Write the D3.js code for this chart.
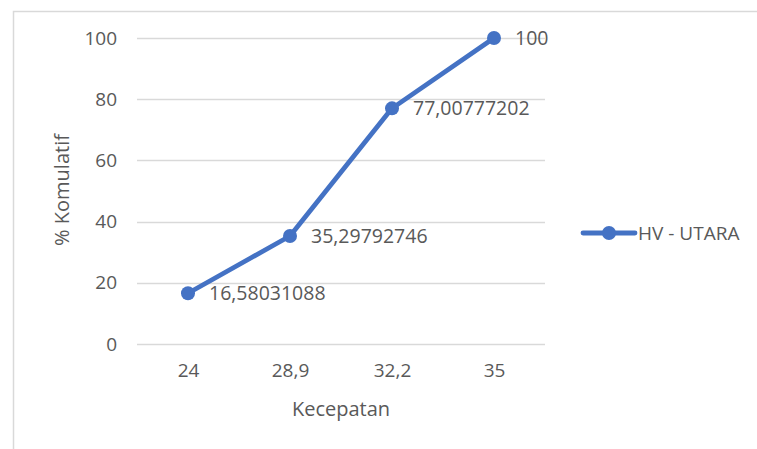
<!DOCTYPE html>
<html>
<head>
<meta charset="utf-8">
<script src="https://cdn.jsdelivr.net/npm/d3@7"></script>
<style>
  html, body { margin: 0; padding: 0; background: #fff; }
  svg { display: block; }
  text { font-family: "Open Sans", "Noto Sans", "Liberation Sans", sans-serif; fill: #595959; }
</style>
</head>
<body>
<svg id="chart" width="757" height="449"></svg>
<script>
// Cumulative percentage by speed
const categories = ["24", "28,9", "32,2", "35"];
const values = [16.58031088, 35.29792746, 77.00777202, 100];
const valueLabels = ["16,58031088", "35,29792746", "77,00777202", "100"];
const yTicks = [0, 20, 40, 60, 80, 100];
const seriesName = "HV - UTARA";

const color = "#4472C4";
const svg = d3.select("#chart");

// Chart frame (extends past the visible area on right and bottom)
svg.append("rect")
  .attr("x", 13.5).attr("y", 11.5)
  .attr("width", 800).attr("height", 500)
  .attr("fill", "#fff").attr("stroke", "#d9d9d9").attr("stroke-width", 1.5);

const plot = { left: 137, right: 545, top: 38, bottom: 344 };

const x = d3.scalePoint().domain(categories)
  .range([plot.left, plot.right]).padding(0.5);
const y = d3.scaleLinear().domain([0, 100])
  .range([plot.bottom, plot.top]);

// Horizontal gridlines
svg.append("g").selectAll("line").data(yTicks).join("line")
  .attr("x1", plot.left).attr("x2", plot.right)
  .attr("y1", d => Math.round(y(d)) + 0.5).attr("y2", d => Math.round(y(d)) + 0.5)
  .attr("stroke", "#d9d9d9").attr("stroke-width", 1.3);

// Y axis tick labels
const yAxis = d3.axisLeft(y).tickValues(yTicks).tickSize(0).tickPadding(0);
const gy = svg.append("g").attr("transform", "translate(117,0)").call(yAxis);
gy.select(".domain").remove();
gy.selectAll("text").attr("font-size", 19).style("font-family", null).attr("fill", "#595959");

// X axis tick labels
const xAxis = d3.axisBottom(x).tickSize(0).tickPadding(0);
const gx = svg.append("g").attr("transform", "translate(0,363)").call(xAxis);
gx.select(".domain").remove();
gx.selectAll("text").attr("font-size", 19).style("font-family", null).attr("fill", "#595959");

// Axis titles
svg.append("text")
  .attr("x", (plot.left + plot.right) / 2).attr("y", 416)
  .attr("text-anchor", "middle").attr("font-size", 20)
  .text("Kecepatan");
svg.append("text")
  .attr("transform", "translate(69,190) rotate(-90)")
  .attr("text-anchor", "middle").attr("font-size", 20)
  .text("% Komulatif");

// Series line
const line = d3.line()
  .x((d, i) => x(categories[i]))
  .y(d => y(d));
svg.append("path")
  .datum(values)
  .attr("d", line)
  .attr("fill", "none").attr("stroke", color)
  .attr("stroke-width", 4.8).attr("stroke-linejoin", "round").attr("stroke-linecap", "round");

// Markers
svg.append("g").selectAll("circle").data(values).join("circle")
  .attr("cx", (d, i) => x(categories[i]))
  .attr("cy", d => y(d))
  .attr("r", 7).attr("fill", color);

// Data labels, right of each point
svg.append("g").selectAll("text").data(values).join("text")
  .attr("x", (d, i) => x(categories[i]) + 21)
  .attr("y", d => y(d))
  .attr("dy", "0.36em")
  .attr("font-size", 19.5).attr("fill", "#404040")
  .text((d, i) => valueLabels[i]);

// Legend
const lg = svg.append("g").attr("transform", "translate(583,233)");
lg.append("line").attr("x1", 0).attr("x2", 52).attr("y1", 0).attr("y2", 0)
  .attr("stroke", color).attr("stroke-width", 4.8).attr("stroke-linecap", "round");
lg.append("circle").attr("cx", 26).attr("cy", 0).attr("r", 7).attr("fill", color);
lg.append("text").attr("x", 55).attr("y", 0).attr("dy", "0.36em")
  .attr("font-size", 19).text(seriesName);
</script>
</body>
</html>
